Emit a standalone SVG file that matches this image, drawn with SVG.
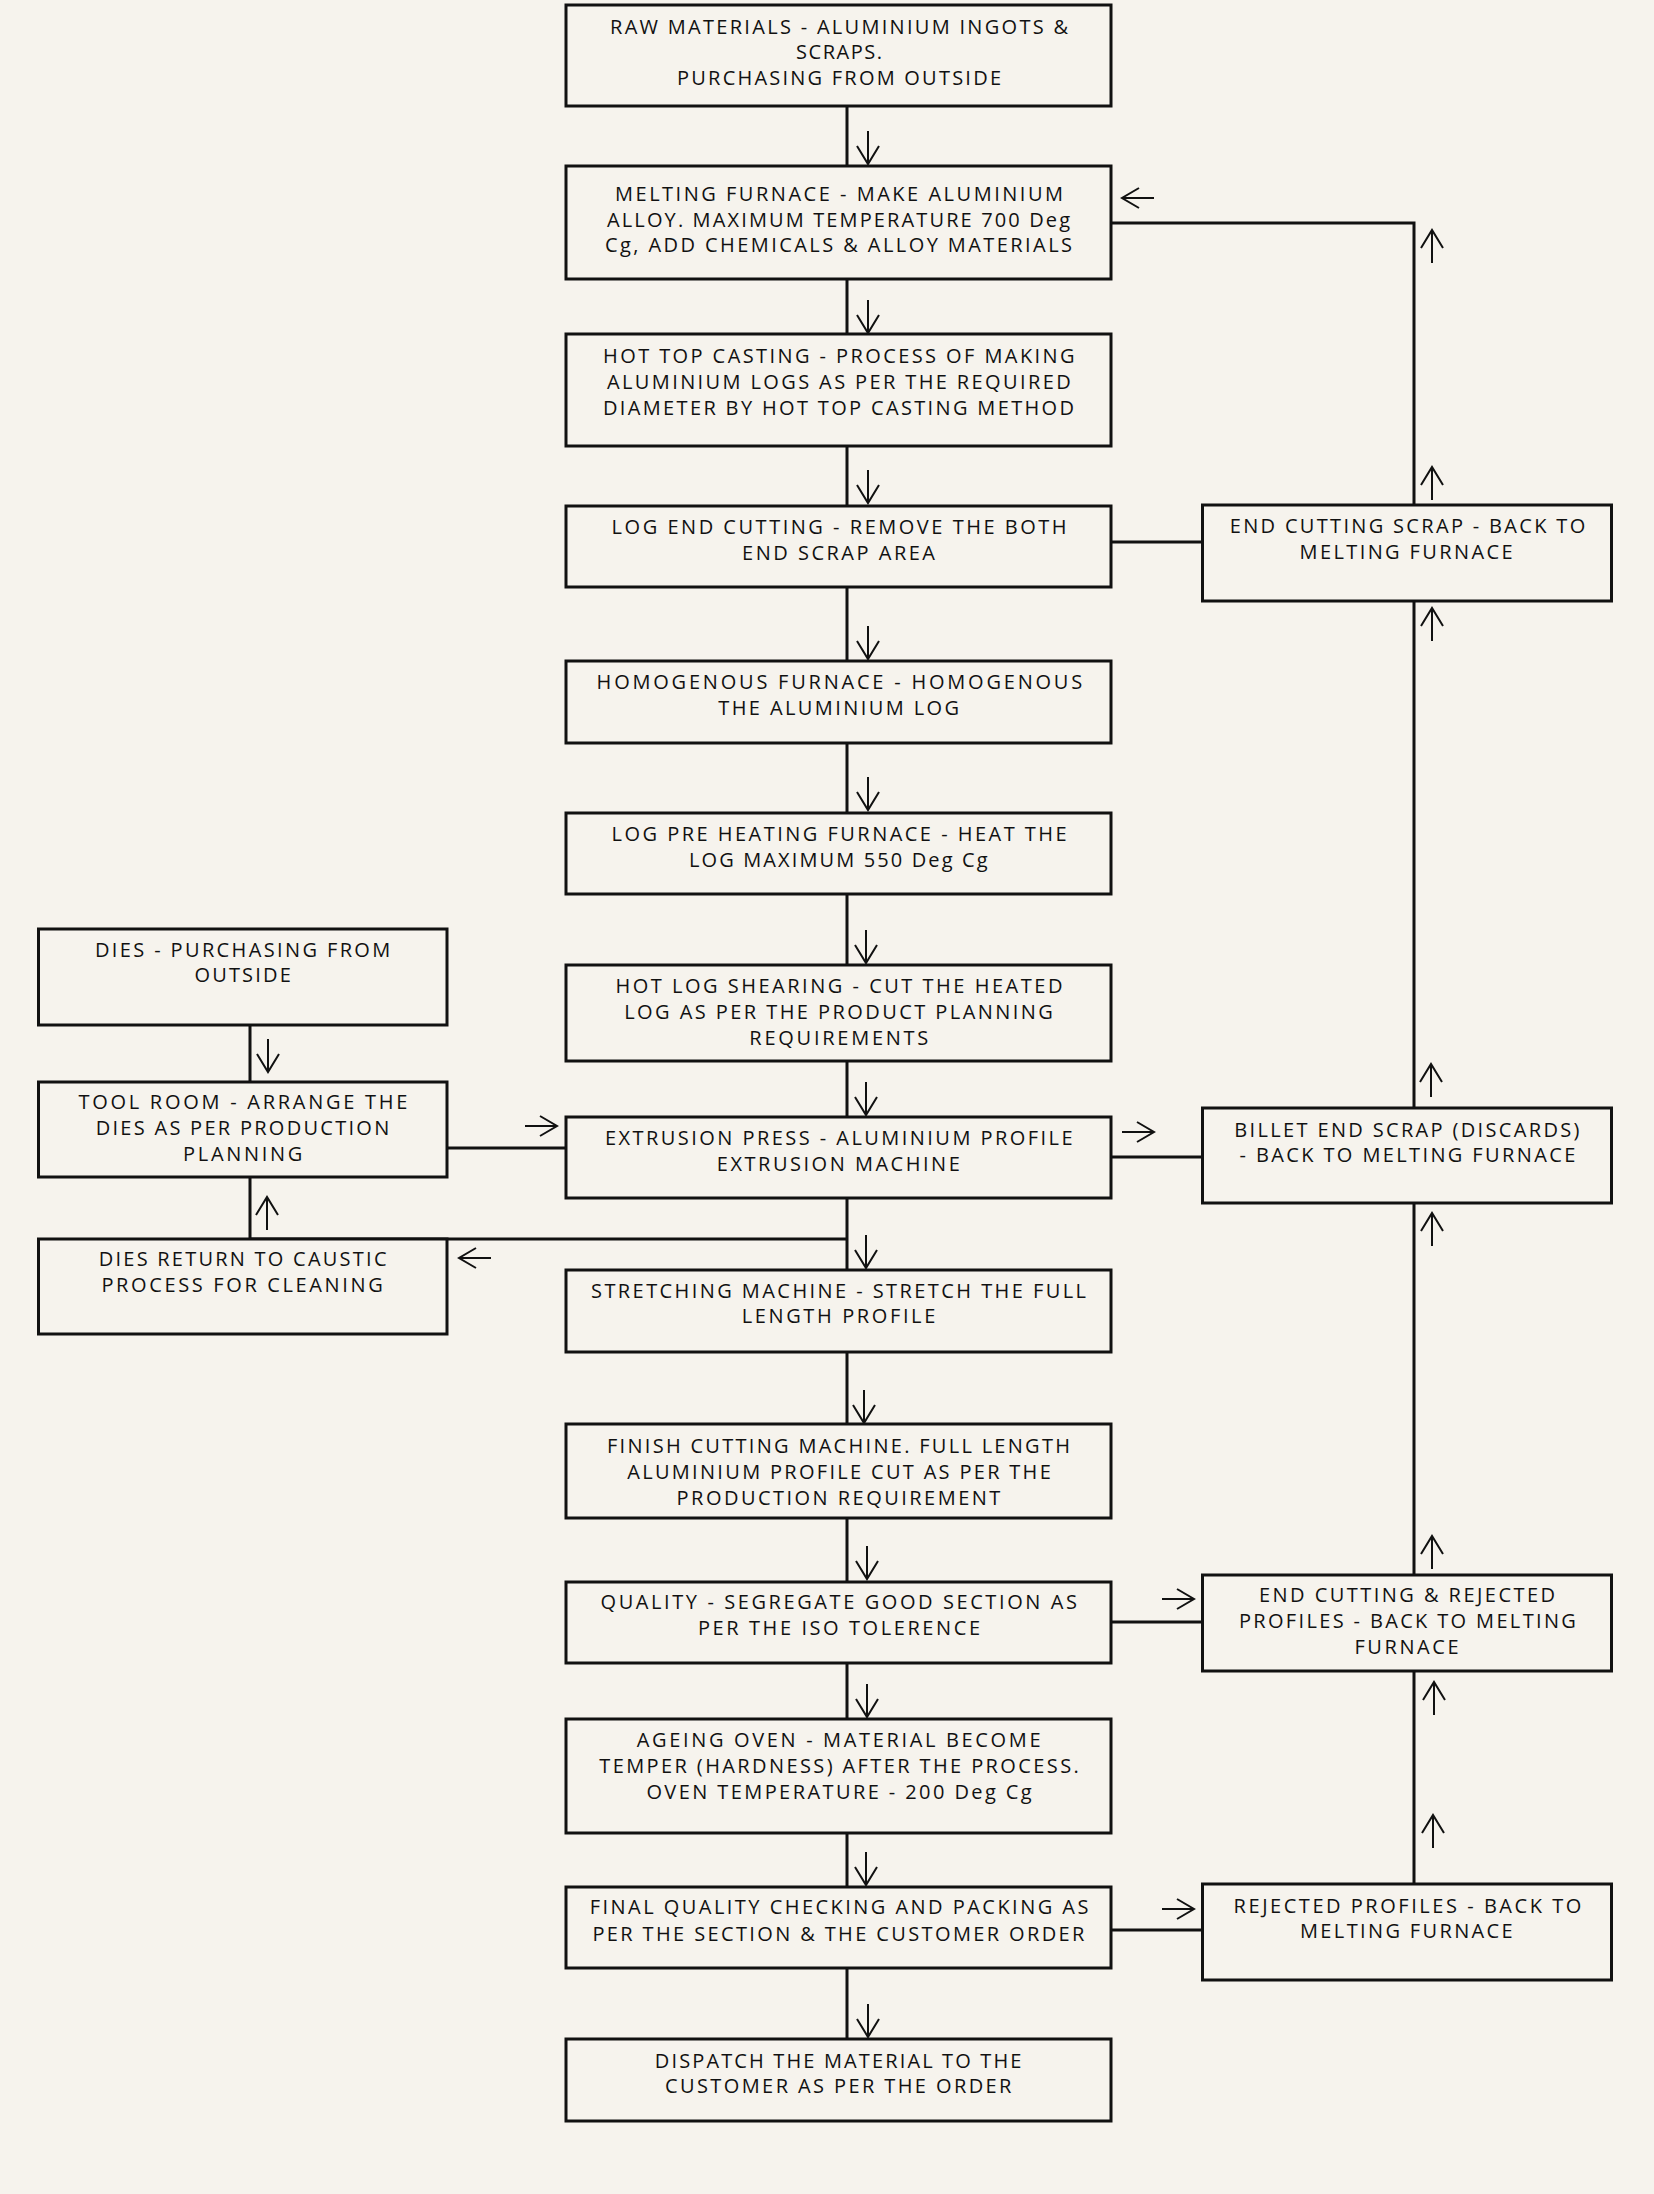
<svg xmlns="http://www.w3.org/2000/svg" xmlns:xlink="http://www.w3.org/1999/xlink" width="1654" height="2194" viewBox="0 0 1654 2194">
<style>
.bx{fill:#f6f3ed;stroke:#111;stroke-width:3}
.ln{fill:none;stroke:#111;stroke-width:3}
.ar{fill:none;stroke:#111;stroke-width:2}
text{font-family:"Open Sans",Lato,"Liberation Sans",sans-serif;font-size:20px;fill:#111}
</style>
<defs>
<path id="aDown" d="M0,-33V0M-11,-18L0,0L11,-18"/>
<path id="aUp" d="M0,33V0M-11,18L0,0L11,18"/>
<path id="aRight" d="M-32,0H0M-17,-10L0,0L-17,10"/>
<path id="aLeft" d="M32,0H0M17,-10L0,0L17,10"/>
</defs>
<rect width="1654" height="2194" fill="#f6f3ed"/>
<g id="connectors">
<path class="ln" d="M847,106V2039"/>
<path class="ln" d="M1111,223H1414V1884"/>
<path class="ln" d="M1111,542H1202M1111,1157H1202M1111,1622H1202M1111,1930H1202"/>
<path class="ln" d="M250,1025V1082M250,1177V1239H847M447,1148H566"/>
<g class="ar">
<use href="#aDown" x="868" y="164"/>
<use href="#aDown" x="868" y="333"/>
<use href="#aDown" x="868" y="503"/>
<use href="#aDown" x="868" y="659"/>
<use href="#aDown" x="868" y="810"/>
<use href="#aDown" x="866" y="963"/>
<use href="#aDown" x="866" y="1115"/>
<use href="#aDown" x="866" y="1268"/>
<use href="#aDown" x="864" y="1423"/>
<use href="#aDown" x="867" y="1579"/>
<use href="#aDown" x="867" y="1717"/>
<use href="#aDown" x="866" y="1885"/>
<use href="#aDown" x="868" y="2037"/>
<use href="#aDown" x="268" y="1072"/>
<use href="#aUp" x="267" y="1197"/>
<use href="#aUp" x="1432" y="230"/>
<use href="#aUp" x="1432" y="467"/>
<use href="#aUp" x="1432" y="608"/>
<use href="#aUp" x="1431" y="1064"/>
<use href="#aUp" x="1432" y="1213"/>
<use href="#aUp" x="1432" y="1536"/>
<use href="#aUp" x="1434" y="1682"/>
<use href="#aUp" x="1433" y="1815"/>
<use href="#aRight" x="557" y="1126"/>
<use href="#aRight" x="1154" y="1132"/>
<use href="#aRight" x="1194" y="1599"/>
<use href="#aRight" x="1194" y="1909"/>
<use href="#aLeft" x="1122" y="198"/>
<use href="#aLeft" x="459" y="1258"/>
</g>
</g>
<g id="raw"><rect class="bx" x="566" y="5" width="545" height="101"/>
<text x="610" y="33.5" textLength="458" lengthAdjust="spacing">RAW MATERIALS - ALUMINIUM INGOTS &amp;</text>
<text x="796" y="59" textLength="86" lengthAdjust="spacing">SCRAPS.</text>
<text x="677" y="84.5" textLength="324" lengthAdjust="spacing">PURCHASING FROM OUTSIDE</text></g>
<g id="melting"><rect class="bx" x="566" y="166" width="545" height="113"/>
<text x="615" y="201" textLength="448" lengthAdjust="spacing">MELTING FURNACE - MAKE ALUMINIUM</text>
<text x="607" y="226.5" textLength="463" lengthAdjust="spacing">ALLOY. MAXIMUM TEMPERATURE 700 Deg</text>
<text x="605" y="252" textLength="467" lengthAdjust="spacing">Cg, ADD CHEMICALS &amp; ALLOY MATERIALS</text></g>
<g id="hottop"><rect class="bx" x="566" y="334" width="545" height="112"/>
<text x="603" y="362.7" textLength="471.6" lengthAdjust="spacing">HOT TOP CASTING - PROCESS OF MAKING</text>
<text x="607" y="389" textLength="463.7" lengthAdjust="spacing">ALUMINIUM LOGS AS PER THE REQUIRED</text>
<text x="603" y="414.5" textLength="471" lengthAdjust="spacing">DIAMETER BY HOT TOP CASTING METHOD</text></g>
<g id="logend"><rect class="bx" x="566" y="506" width="545" height="81"/>
<text x="611.6" y="534" textLength="455" lengthAdjust="spacing">LOG END CUTTING - REMOVE THE BOTH</text>
<text x="742" y="559.5" textLength="193" lengthAdjust="spacing">END SCRAP AREA</text></g>
<g id="homogenous"><rect class="bx" x="566" y="661" width="545" height="82"/>
<text x="596.6" y="689" textLength="485.6" lengthAdjust="spacing">HOMOGENOUS FURNACE - HOMOGENOUS</text>
<text x="718.3" y="715" textLength="240.7" lengthAdjust="spacing">THE ALUMINIUM LOG</text></g>
<g id="preheat"><rect class="bx" x="566" y="813" width="545" height="81"/>
<text x="611.6" y="841" textLength="455" lengthAdjust="spacing">LOG PRE HEATING FURNACE - HEAT THE</text>
<text x="689" y="867" textLength="298.5" lengthAdjust="spacing">LOG MAXIMUM 550 Deg Cg</text></g>
<g id="shearing"><rect class="bx" x="566" y="965" width="545" height="96"/>
<text x="615.4" y="993" textLength="447" lengthAdjust="spacing">HOT LOG SHEARING - CUT THE HEATED</text>
<text x="624.2" y="1019" textLength="428.6" lengthAdjust="spacing">LOG AS PER THE PRODUCT PLANNING</text>
<text x="749.3" y="1045" textLength="179" lengthAdjust="spacing">REQUIREMENTS</text></g>
<g id="extrusion"><rect class="bx" x="566" y="1117" width="545" height="81"/>
<text x="605" y="1145" textLength="467.6" lengthAdjust="spacing">EXTRUSION PRESS - ALUMINIUM PROFILE</text>
<text x="716.8" y="1171" textLength="243" lengthAdjust="spacing">EXTRUSION MACHINE</text></g>
<g id="stretching"><rect class="bx" x="566" y="1270" width="545" height="82"/>
<text x="591" y="1298" textLength="495" lengthAdjust="spacing">STRETCHING MACHINE - STRETCH THE FULL</text>
<text x="741.7" y="1323" textLength="193.6" lengthAdjust="spacing">LENGTH PROFILE</text></g>
<g id="finish"><rect class="bx" x="566" y="1424" width="545" height="94"/>
<text x="607" y="1453" textLength="463" lengthAdjust="spacing">FINISH CUTTING MACHINE. FULL LENGTH</text>
<text x="627.2" y="1479" textLength="423.6" lengthAdjust="spacing">ALUMINIUM PROFILE CUT AS PER THE</text>
<text x="676.6" y="1505" textLength="323.7" lengthAdjust="spacing">PRODUCTION REQUIREMENT</text></g>
<g id="quality"><rect class="bx" x="566" y="1582" width="545" height="81"/>
<text x="600.5" y="1609" textLength="476.4" lengthAdjust="spacing">QUALITY - SEGREGATE GOOD SECTION AS</text>
<text x="698" y="1635" textLength="282" lengthAdjust="spacing">PER THE ISO TOLERENCE</text></g>
<g id="ageing"><rect class="bx" x="566" y="1719" width="545" height="114"/>
<text x="636.8" y="1747" textLength="403.7" lengthAdjust="spacing">AGEING OVEN - MATERIAL BECOME</text>
<text x="599.3" y="1773" textLength="479.5" lengthAdjust="spacing">TEMPER (HARDNESS) AFTER THE PROCESS.</text>
<text x="646.4" y="1799" textLength="385.3" lengthAdjust="spacing">OVEN TEMPERATURE - 200 Deg Cg</text></g>
<g id="final"><rect class="bx" x="566" y="1887" width="545" height="81"/>
<text x="589.7" y="1914" textLength="498.7" lengthAdjust="spacing">FINAL QUALITY CHECKING AND PACKING AS</text>
<text x="592.4" y="1941" textLength="492" lengthAdjust="spacing">PER THE SECTION &amp; THE CUSTOMER ORDER</text></g>
<g id="dispatch"><rect class="bx" x="566" y="2039" width="545" height="82"/>
<text x="654.8" y="2068" textLength="366.6" lengthAdjust="spacing">DISPATCH THE MATERIAL TO THE</text>
<text x="665" y="2093" textLength="346.4" lengthAdjust="spacing">CUSTOMER AS PER THE ORDER</text></g>
<g id="dies"><rect class="bx" x="38.5" y="929" width="408.5" height="96"/>
<text x="94.9" y="957" textLength="295.4" lengthAdjust="spacing">DIES - PURCHASING FROM</text>
<text x="194.4" y="982" textLength="96.4" lengthAdjust="spacing">OUTSIDE</text></g>
<g id="toolroom"><rect class="bx" x="38.5" y="1082" width="408.5" height="95"/>
<text x="78.4" y="1109" textLength="329" lengthAdjust="spacing">TOOL ROOM - ARRANGE THE</text>
<text x="95.7" y="1135" textLength="293.5" lengthAdjust="spacing">DIES AS PER PRODUCTION</text>
<text x="183" y="1161" textLength="119.4" lengthAdjust="spacing">PLANNING</text></g>
<g id="diesreturn"><rect class="bx" x="38.5" y="1239" width="408.5" height="95"/>
<text x="98.7" y="1266" textLength="287.8" lengthAdjust="spacing">DIES RETURN TO CAUSTIC</text>
<text x="101.4" y="1292" textLength="281.3" lengthAdjust="spacing">PROCESS FOR CLEANING</text></g>
<g id="endscrap"><rect class="bx" x="1202.5" y="505" width="409" height="96"/>
<text x="1229.7" y="533.3" textLength="355.5" lengthAdjust="spacing">END CUTTING SCRAP - BACK TO</text>
<text x="1299.6" y="559" textLength="213" lengthAdjust="spacing">MELTING FURNACE</text></g>
<g id="billet"><rect class="bx" x="1202.5" y="1108" width="409" height="95"/>
<text x="1234.3" y="1137" textLength="345.2" lengthAdjust="spacing">BILLET END SCRAP (DISCARDS)</text>
<text x="1239.6" y="1162" textLength="335.7" lengthAdjust="spacing">- BACK TO MELTING FURNACE</text></g>
<g id="endrejected"><rect class="bx" x="1202.5" y="1575" width="409" height="96"/>
<text x="1259" y="1602" textLength="296" lengthAdjust="spacing">END CUTTING &amp; REJECTED</text>
<text x="1238.9" y="1628" textLength="337" lengthAdjust="spacing">PROFILES - BACK TO MELTING</text>
<text x="1354.4" y="1654" textLength="104.3" lengthAdjust="spacing">FURNACE</text></g>
<g id="rejected"><rect class="bx" x="1202.5" y="1884" width="409" height="96"/>
<text x="1233.6" y="1913" textLength="347.7" lengthAdjust="spacing">REJECTED PROFILES - BACK TO</text>
<text x="1300" y="1938" textLength="212.7" lengthAdjust="spacing">MELTING FURNACE</text></g>
</svg>
